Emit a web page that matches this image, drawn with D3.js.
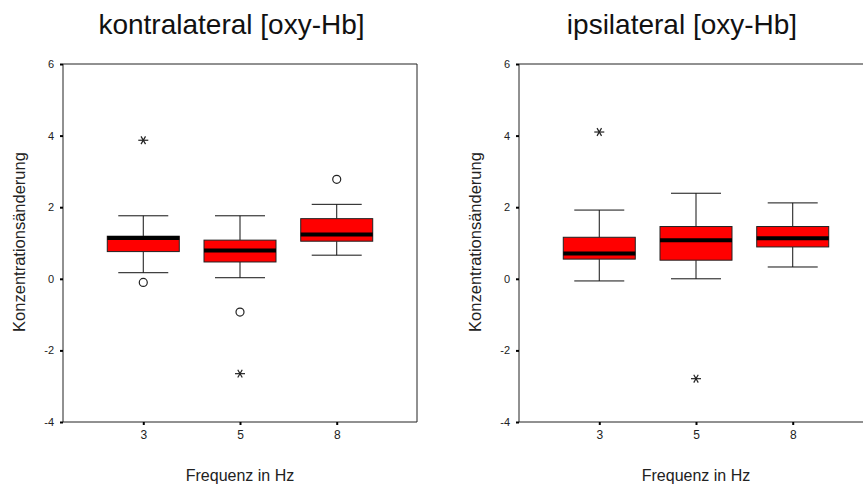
<!DOCTYPE html>
<html>
<head>
<meta charset="utf-8">
<script src="https://cdn.jsdelivr.net/npm/d3@7"></script>
<style>
  html, body { margin: 0; padding: 0; background: #fff; }
  svg { display: block; font-family: "Liberation Sans", Arial, sans-serif; }
</style>
</head>
<body>
<svg id="chart" width="863" height="484"></svg>
<script>
// Frequencies (x categories) and y-axis ticks
const categories = ["3", "5", "8"];
const yTicks = [-4, -2, 0, 2, 4, 6];

// Five-number summaries per frequency: [lower whisker, Q1, median, Q3, upper whisker]
const kontraStats = [
  [0.17, 0.76, 1.14, 1.19, 1.76],
  [0.03, 0.47, 0.79, 1.08, 1.76],
  [0.66, 1.05, 1.24, 1.68, 2.08]
];
// Outliers (circles) and extreme values (asterisks)
const kontraOutliers = [[-0.10], [-0.93], [2.78]];
const kontraExtremes = [[3.87], [-2.65], []];

const ipsiStats = [
  [-0.06, 0.55, 0.71, 1.16, 1.92],
  [0.00, 0.52, 1.08, 1.46, 2.39],
  [0.33, 0.89, 1.13, 1.46, 2.12]
];
const ipsiOutliers = [[], [], []];
const ipsiExtremes = [[4.10], [-2.79], []];

const W = 863;
const svg = d3.select("#chart");

const y = d3.scaleLinear().domain([-4, 6]).range([422, 64]);

function panel(opts) {
  const g = svg.append("g");
  const left = opts.left, right = left + 354;
  const x = d3.scalePoint().domain(categories).range([left, right]).padding(0.83);

  // Title
  g.append("text")
    .attr("x", opts.titleX).attr("y", 34)
    .attr("text-anchor", "middle")
    .attr("font-size", 28).attr("fill", "#111")
    .text(opts.title);

  // Plot frame (the right edge of the second panel runs past the page)
  const frame = [
    [left, y(6), right, y(6)],
    [left, y(-4), right, y(-4)],
    [left, y(6), left, y(-4)]
  ];
  if (right < W) frame.push([right, y(6), right, y(-4)]);
  frame.forEach(([x1, y1, x2, y2]) => {
    g.append("line").attr("x1", x1).attr("y1", y1).attr("x2", x2).attr("y2", y2)
      .attr("stroke", "#222").attr("stroke-width", 1);
  });

  // Y axis
  const ya = g.append("g").attr("transform", `translate(${left},0)`)
    .call(d3.axisLeft(y).tickValues(yTicks).tickSize(3).tickPadding(6).tickFormat(d => String(d)));
  ya.select(".domain").remove();
  ya.selectAll(".tick line").attr("stroke", "#000").attr("stroke-width", 2);
  ya.selectAll(".tick text").attr("font-size", 11).attr("fill", "#222")
    .attr("font-family", "Liberation Sans, Arial, sans-serif");

  // X axis
  const xa = g.append("g").attr("transform", `translate(0,${y(-4)})`)
    .call(d3.axisBottom(x).tickSize(3).tickPadding(5));
  xa.select(".domain").remove();
  xa.selectAll(".tick line").attr("stroke", "#000").attr("stroke-width", 2);
  xa.selectAll(".tick text").attr("font-size", 12).attr("fill", "#222")
    .attr("font-family", "Liberation Sans, Arial, sans-serif");

  // Axis titles
  g.append("text")
    .attr("x", opts.xLabelX).attr("y", 481)
    .attr("text-anchor", "middle")
    .attr("font-size", 16).attr("fill", "#222")
    .text("Frequenz in Hz");

  g.append("text")
    .attr("transform", `translate(${left - 38},${242}) rotate(-90)`)
    .attr("text-anchor", "middle")
    .attr("font-size", 16.5).attr("fill", "#222")
    .text("Konzentrationsänderung");

  const boxW = 72, capW = 50;
  categories.forEach((c, i) => {
    const [lo, q1, med, q3, hi] = opts.stats[i];
    const cx = x(c);
    const b = g.append("g");
    // whiskers
    b.append("line").attr("x1", cx).attr("x2", cx).attr("y1", y(hi)).attr("y2", y(q3))
      .attr("stroke", "#111").attr("stroke-width", 1);
    b.append("line").attr("x1", cx).attr("x2", cx).attr("y1", y(q1)).attr("y2", y(lo))
      .attr("stroke", "#111").attr("stroke-width", 1);
    [hi, lo].forEach(v => {
      b.append("line").attr("x1", cx - capW / 2).attr("x2", cx + capW / 2)
        .attr("y1", y(v)).attr("y2", y(v))
        .attr("stroke", "#111").attr("stroke-width", 1);
    });
    // box
    b.append("rect")
      .attr("x", cx - boxW / 2).attr("y", y(q3))
      .attr("width", boxW).attr("height", y(q1) - y(q3))
      .attr("fill", "#ff0000").attr("stroke", "#222").attr("stroke-width", 1);
    // median
    b.append("line").attr("x1", cx - boxW / 2).attr("x2", cx + boxW / 2)
      .attr("y1", y(med)).attr("y2", y(med))
      .attr("stroke", "#000").attr("stroke-width", 4);
    // outliers
    opts.outliers[i].forEach(v => {
      b.append("circle").attr("cx", cx).attr("cy", y(v)).attr("r", 4)
        .attr("fill", "none").attr("stroke", "#222").attr("stroke-width", 1.2);
    });
    // extreme values
    opts.extremes[i].forEach(v => {
      const s = b.append("g").attr("transform", `translate(${cx},${y(v)})`);
      [0, 60, 120].forEach(a => {
        const r = a === 0 ? 5 : 4.5;
        const dx = r * Math.cos(a * Math.PI / 180), dy = r * Math.sin(a * Math.PI / 180);
        s.append("line").attr("x1", -dx).attr("y1", -dy).attr("x2", dx).attr("y2", dy)
          .attr("stroke", "#222").attr("stroke-width", 1.2);
      });
    });
  });
}

panel({ left: 63, title: "kontralateral [oxy-Hb]", titleX: 231.5, xLabelX: 240,
        stats: kontraStats, outliers: kontraOutliers, extremes: kontraExtremes });
panel({ left: 519, title: "ipsilateral [oxy-Hb]", titleX: 682, xLabelX: 696,
        stats: ipsiStats, outliers: ipsiOutliers, extremes: ipsiExtremes });
</script>
</body>
</html>
